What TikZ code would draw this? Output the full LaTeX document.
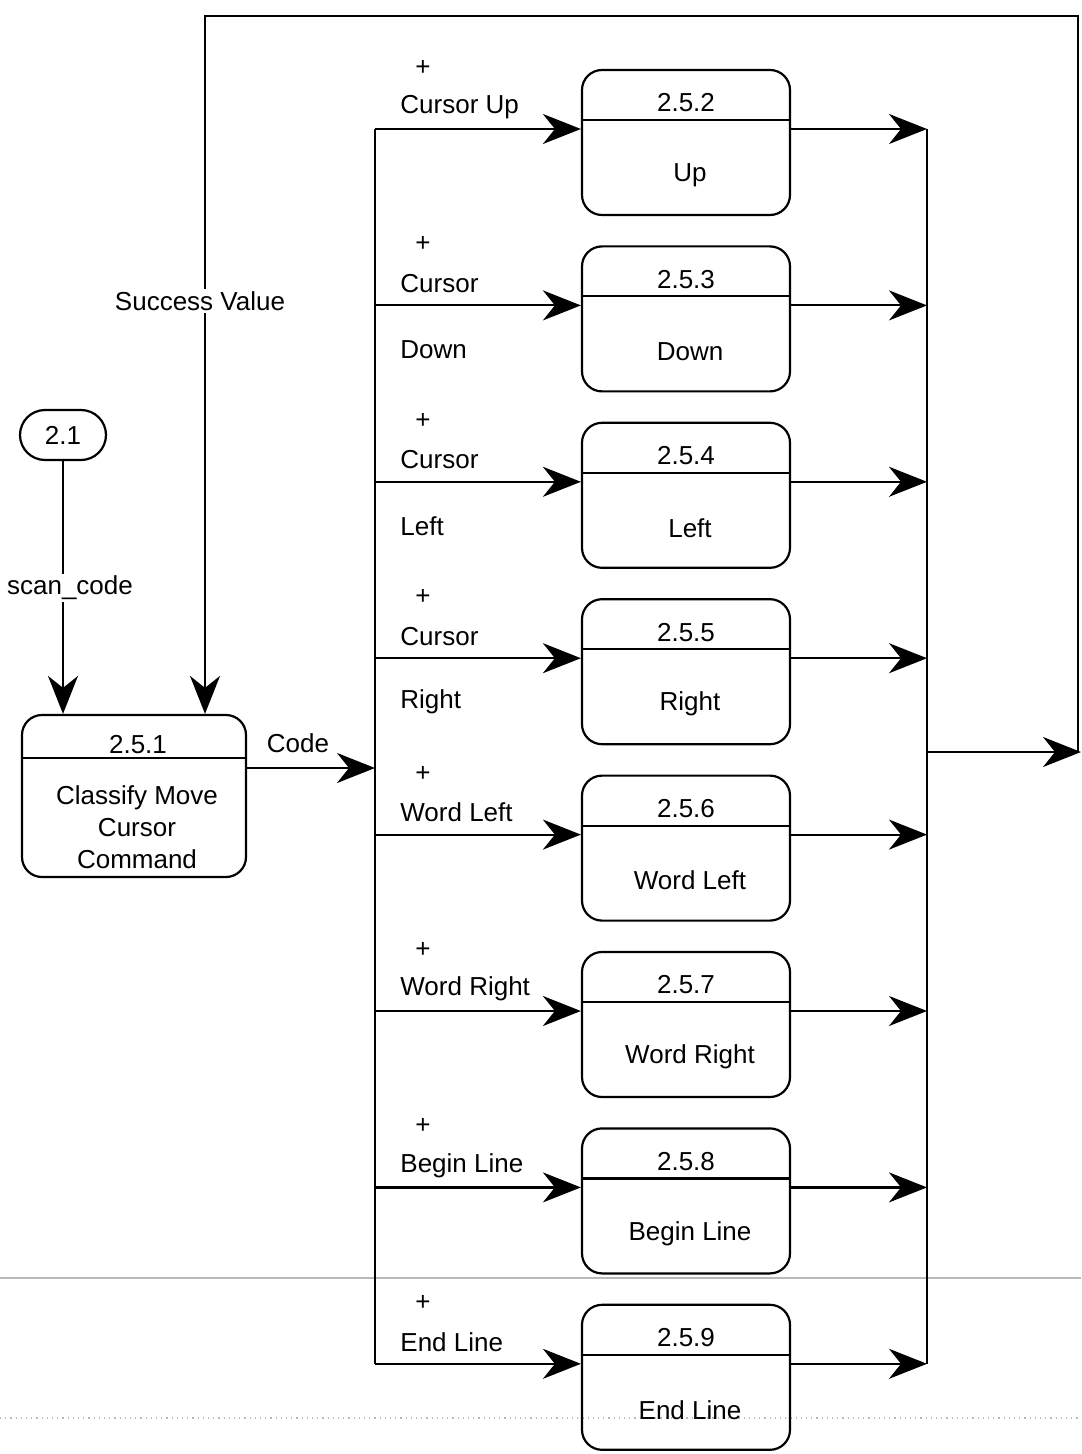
\documentclass[tikz,border=0pt]{standalone}
\usepackage{fontspec}
\setmainfont{Liberation Sans}
\usetikzlibrary{arrows.meta,positioning,shapes.misc}

\begin{document}
\begin{tikzpicture}[x=0.5pt,y=-0.5pt,
  every node/.style={font=\fontsize{13}{16}\selectfont,align=center,inner sep=1pt},
  proc/.style={draw,rounded corners=10pt,line width=1.1pt,minimum width=104pt,minimum height=72.5pt},
  term/.style={draw,rounded rectangle,line width=1.1pt,minimum width=45pt,minimum height=25pt},
  wire/.style={line width=1.1pt},
  flow/.style={-{Stealth[length=19pt,width=15pt,inset=6pt]},line width=1.1pt},
  scanline/.style={gray!55,line width=0.6pt}
]
\useasboundingbox (0,0) rectangle (1081,1454);

% scan marks
\draw[scanline] (0,1278) -- (1081,1278);
\draw[scanline,dotted] (0,1418) -- (1081,1418);

% source and classifier
\node[term] (src) at (63,435) {2.1};
\node[proc,minimum width=112pt,minimum height=81pt] (classify) at (134,796) {};
\draw[wire] (classify.west |- 0,758) -- (classify.east |- 0,758);
\node (classify-no) at (138,745) {2.5.1};
\node (classify-txt) at (137,827) {Classify Move\\Cursor\\Command};

\node (scancode) at (70,588) {scan\_code};
\draw[wire] (src.south) -- (src.south |- scancode.north);
\draw[flow] (src.south |- scancode.south) -- (src.south |- classify.north);

% success value feedback
\node (succ) at (200,301) {Success Value};
\coordinate (fb-tl) at (205,16);
\coordinate (fb-tr) at (1078,16);
\coordinate (fb-br) at (1078,752);
\draw[wire] (fb-br) -- (fb-tr) -- (fb-tl) -- (fb-tl |- succ.north);
\draw[flow] (fb-tl |- succ.south) -- (fb-tl |- classify.north);

% code to the input bus
\coordinate (inbus) at (375,768);
\node (code) at (298,743) {Code};
\draw[flow] (classify.east |- inbus) -- (inbus);

% output bus
\coordinate (outbus) at (927,752);
\coordinate (exit) at (1081,752);
\draw[flow] (outbus) -- (exit);

\coordinate (in-top) at (375,129);
\coordinate (in-bot) at (375,1364);
\coordinate (out-top) at (927,129);
\coordinate (out-bot) at (927,1364);
\draw[wire] (in-top) -- (in-bot);
\draw[wire] (out-top) -- (out-bot);

% the eight cursor moves
\foreach \i/\num/\name/\ta/\tb in {
    0/2.5.2/Up/Cursor Up/,
    1/2.5.3/Down/Cursor/Down,
    2/2.5.4/Left/Cursor/Left,
    3/2.5.5/Right/Cursor/Right,
    4/2.5.6/Word Left/Word Left/,
    5/2.5.7/Word Right/Word Right/,
    6/2.5.8/Begin Line/Begin Line/,
    7/2.5.9/End Line/End Line/} {
  \pgfmathsetmacro\rowy{70+176.4*\i}
  \node[proc] (p\i) at (686,{\rowy+72.5}) {};
  \draw[wire] (p\i.west |- 0,{\rowy+50}) -- (p\i.east |- 0,{\rowy+50});
  \node (no\i) at (686,{\rowy+33}) {\num};
  \node (name\i) at (690,{\rowy+105}) {\name};
  \node (plus\i) at (423,{\rowy-2}) {+};
  \node[anchor=west] (la\i) at (398,{\rowy+37}) {\ta};
  \node[anchor=west] (lb\i) at (398,{\rowy+103}) {\tb};
  \coordinate (in\i) at (375,{\rowy+59});
  \coordinate (out\i) at (927,{\rowy+59});
  \draw[flow] (in\i) -- (p\i.west |- in\i);
  \draw[flow] (p\i.east |- out\i) -- (out\i);
}
\end{tikzpicture}
\end{document}
